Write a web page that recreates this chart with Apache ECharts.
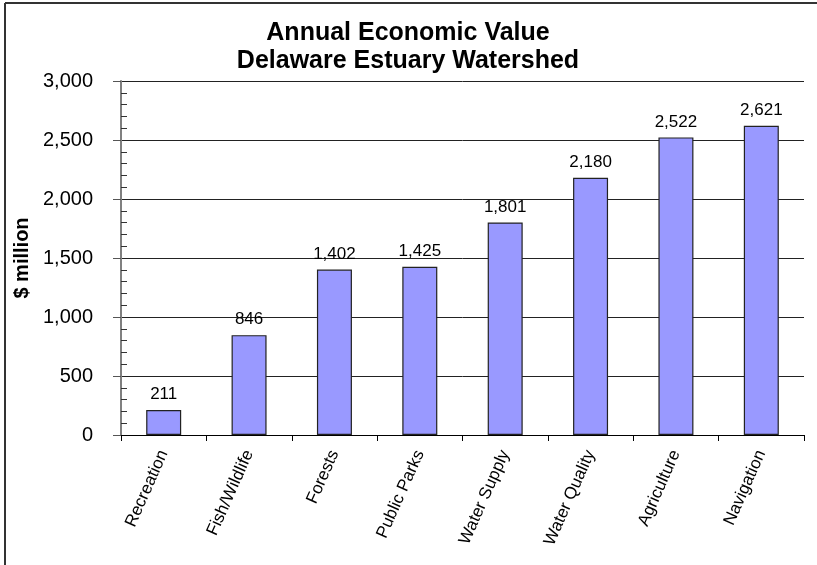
<!DOCTYPE html>
<html>
<head>
<meta charset="utf-8">
<script src="https://cdn.jsdelivr.net/npm/echarts@6/dist/echarts.min.js"></script>
<style>
  html, body { margin: 0; padding: 0; background: #fff; }
  #chart { width: 817px; height: 565px; }
</style>
</head>
<body>
<div id="chart"></div>
<script>
// Annual economic value by resource category, $ million
const categories = ['Recreation', 'Fish/Wildlife', 'Forests', 'Public Parks', 'Water Supply', 'Water Quality', 'Agriculture', 'Navigation'];
const values = [211, 846, 1402, 1425, 1801, 2180, 2522, 2621];
const titleLines = ['Annual Economic Value', 'Delaware Estuary Watershed'];
const yAxisTitle = '$ million';

const FONT = '"Liberation Sans", Arial, sans-serif';
const fmt = v => v.toLocaleString('en-US');

const chart = echarts.init(document.getElementById('chart'), null, { renderer: 'canvas' });
chart.setOption({
  backgroundColor: '#ffffff',
  animation: false,
  title: {
    text: titleLines.join('\n'),
    left: 403,
    textAlign: 'center',
    top: 14,
    textStyle: { fontFamily: FONT, fontWeight: 'bold', fontSize: 25, lineHeight: 28, color: '#000' }
  },
  graphic: [
    { type: 'line', shape: { x1: 5, y1: 3, x2: 817, y2: 3 }, style: { stroke: '#333', lineWidth: 2 } },
    { type: 'line', shape: { x1: 5, y1: 3, x2: 5, y2: 565 }, style: { stroke: '#333', lineWidth: 2 } }
  ],
  grid: { left: 121, right: 13, top: 81, bottom: 130, containLabel: false },
  xAxis: {
    type: 'category',
    data: categories,
    axisLine: { lineStyle: { color: '#000', width: 1 } },
    axisTick: { show: true, length: 6, lineStyle: { color: '#000' } },
    axisLabel: { rotate: 66, margin: 16, fontFamily: FONT, fontSize: 17, color: '#000', interval: 0 }
  },
  yAxis: {
    type: 'value',
    min: 0, max: 3000, interval: 500,
    name: yAxisTitle,
    nameLocation: 'middle',
    nameGap: 88,
    nameRotate: 90,
    nameTextStyle: { fontFamily: FONT, fontWeight: 'bold', fontSize: 20, color: '#000' },
    axisLine: { show: true, lineStyle: { color: '#808080', width: 2 } },
    axisTick: { show: true, length: 8, lineStyle: { color: '#555' } },
    minorTick: { show: true, splitNumber: 5, length: -6, lineStyle: { color: '#333' } },
    axisLabel: { margin: 28, fontFamily: FONT, fontSize: 20, color: '#000', formatter: fmt },
    splitLine: { show: true, lineStyle: { color: '#222', width: 1 } }
  },
  series: [{
    type: 'bar',
    data: values,
    barWidth: 35,
    itemStyle: { color: '#9999FF', borderColor: '#222', borderWidth: 1.2 },
    label: {
      show: true, position: 'top', distance: 7,
      fontFamily: FONT, fontSize: 17, color: '#000',
      formatter: p => fmt(p.value)
    }
  }]
});
</script>
</body>
</html>
